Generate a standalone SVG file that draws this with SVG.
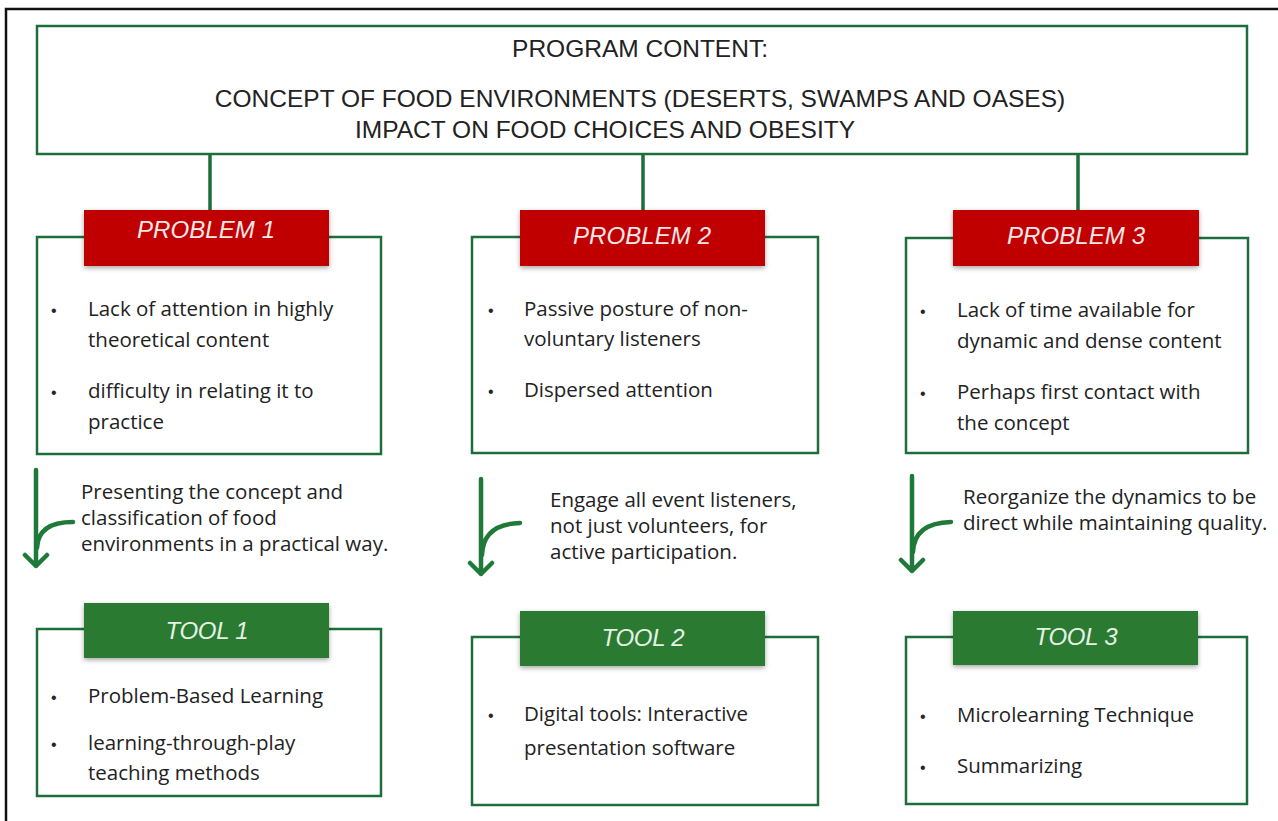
<svg xmlns="http://www.w3.org/2000/svg" width="1278" height="821" viewBox="0 0 1278 821">
<defs>
<style>
.frame{fill:none;stroke:#111;stroke-width:2.5}
.box{fill:#fff;stroke:#1d6e3b;stroke-width:2.5}
.conn{stroke:#1d6e3b;stroke-width:3.5;fill:none}
.arr{stroke:#1f7a3a;stroke-width:4.5;fill:none;stroke-linecap:round;stroke-linejoin:round}
.red{fill:#c00000}
.grn{fill:#2a7a30}
.hdr{font-family:"Liberation Sans",Arial,sans-serif;font-style:italic;font-size:24px;text-anchor:middle}
.hr{fill:#f8e8e8}
.hg{fill:#e4f1e4}
.top{font-family:"Liberation Sans",Arial,sans-serif;font-size:24.5px;fill:#222}
.t{font-family:"Open Sans","Liberation Sans",sans-serif;font-size:20.5px;fill:#222}
.b{font-family:"Liberation Sans",Arial,sans-serif;font-size:16px;fill:#262626}
</style>
<filter id="sh" x="-10%" y="-20%" width="120%" height="150%">
<feDropShadow dx="0" dy="2" stdDeviation="2.5" flood-color="#000" flood-opacity="0.35"/>
</filter>
</defs>
<rect width="1278" height="821" fill="#fff"/>
<rect class="frame" x="6" y="9" width="1300" height="850"/>

<g id="connectors">
<line class="conn" x1="210" y1="154" x2="210" y2="212"/>
<line class="conn" x1="643" y1="154" x2="643" y2="212"/>
<line class="conn" x1="1078" y1="154" x2="1078" y2="212"/>
<path class="arr" d="M36 470 V566 M25 555 L36 566 L47 555 M37 548 Q38 522 73 522"/>
<path class="arr" d="M481 479 V574 M470 563 L481 574 L492 563 M482 555 Q483 524 520 523"/>
<path class="arr" d="M912 476 V571 M901 560 L912 571 L923 560 M913 552 Q914 523 951 522"/>
</g>

<g id="program-content">
<rect class="box" x="37" y="26" width="1210" height="128"/>
<text class="top" x="640" y="57" text-anchor="middle">PROGRAM CONTENT:</text>
<text class="top" x="640" y="107" text-anchor="middle">CONCEPT OF FOOD ENVIRONMENTS (DESERTS, SWAMPS AND OASES)</text>
<text class="top" x="605" y="138" text-anchor="middle">IMPACT ON FOOD CHOICES AND OBESITY</text>
</g>

<g id="problem-1">
<rect class="box" x="37" y="237" width="344" height="217"/>
<rect class="red" x="84" y="210" width="245" height="56" filter="url(#sh)"/>
<text class="hdr hr" x="206" y="238" textLength="138">PROBLEM 1</text>
<text class="b" x="51" y="316">•</text>
<text class="t" x="88" y="316">Lack of attention in highly</text>
<text class="t" x="88" y="347">theoretical content</text>
<text class="b" x="51" y="398">•</text>
<text class="t" x="88" y="398">difficulty in relating it to</text>
<text class="t" x="88" y="429">practice</text>
</g>

<g id="problem-2">
<rect class="box" x="472" y="237" width="346" height="216"/>
<rect class="red" x="520" y="210" width="245" height="56" filter="url(#sh)"/>
<text class="hdr hr" x="642" y="244" textLength="138">PROBLEM 2</text>
<text class="b" x="488" y="316">•</text>
<text class="t" x="524" y="316">Passive posture of non-</text>
<text class="t" x="524" y="346">voluntary listeners</text>
<text class="b" x="488" y="397">•</text>
<text class="t" x="524" y="397">Dispersed attention</text>
</g>

<g id="problem-3">
<rect class="box" x="906" y="238" width="342" height="215"/>
<rect class="red" x="953" y="210" width="246" height="56" filter="url(#sh)"/>
<text class="hdr hr" x="1076" y="244" textLength="138">PROBLEM 3</text>
<text class="b" x="920" y="317">•</text>
<text class="t" x="957" y="317">Lack of time available for</text>
<text class="t" x="957" y="348">dynamic and dense content</text>
<text class="b" x="920" y="399">•</text>
<text class="t" x="957" y="399">Perhaps first contact with</text>
<text class="t" x="957" y="430">the concept</text>
</g>

<g id="step-1">
<text class="t" x="81" y="499">Presenting the concept and</text>
<text class="t" x="81" y="525">classification of food</text>
<text class="t" x="81" y="551">environments in a practical way.</text>
</g>

<g id="step-2">
<text class="t" x="550" y="507">Engage all event listeners,</text>
<text class="t" x="550" y="533">not just volunteers, for</text>
<text class="t" x="550" y="559">active participation.</text>
</g>

<g id="step-3">
<text class="t" x="963" y="504">Reorganize the dynamics to be</text>
<text class="t" x="963" y="530">direct while maintaining quality.</text>
</g>

<g id="tool-1">
<rect class="box" x="37" y="629" width="344" height="167"/>
<rect class="grn" x="84" y="603" width="245" height="55" filter="url(#sh)"/>
<text class="hdr hg" x="207" y="639" textLength="83">TOOL 1</text>
<text class="b" x="51" y="703">•</text>
<text class="t" x="88" y="703">Problem-Based Learning</text>
<text class="b" x="51" y="750">•</text>
<text class="t" x="88" y="750">learning-through-play</text>
<text class="t" x="88" y="780">teaching methods</text>
</g>

<g id="tool-2">
<rect class="box" x="472" y="637" width="346" height="168"/>
<rect class="grn" x="520" y="611" width="245" height="55" filter="url(#sh)"/>
<text class="hdr hg" x="643" y="646" textLength="83">TOOL 2</text>
<text class="b" x="488" y="721">•</text>
<text class="t" x="524" y="721">Digital tools: Interactive</text>
<text class="t" x="524" y="755">presentation software</text>
</g>

<g id="tool-3">
<rect class="box" x="906" y="637" width="341" height="167"/>
<rect class="grn" x="953" y="611" width="245" height="54" filter="url(#sh)"/>
<text class="hdr hg" x="1076" y="645" textLength="83">TOOL 3</text>
<text class="b" x="920" y="722">•</text>
<text class="t" x="957" y="722">Microlearning Technique</text>
<text class="b" x="920" y="773">•</text>
<text class="t" x="957" y="773">Summarizing</text>
</g>
</svg>
